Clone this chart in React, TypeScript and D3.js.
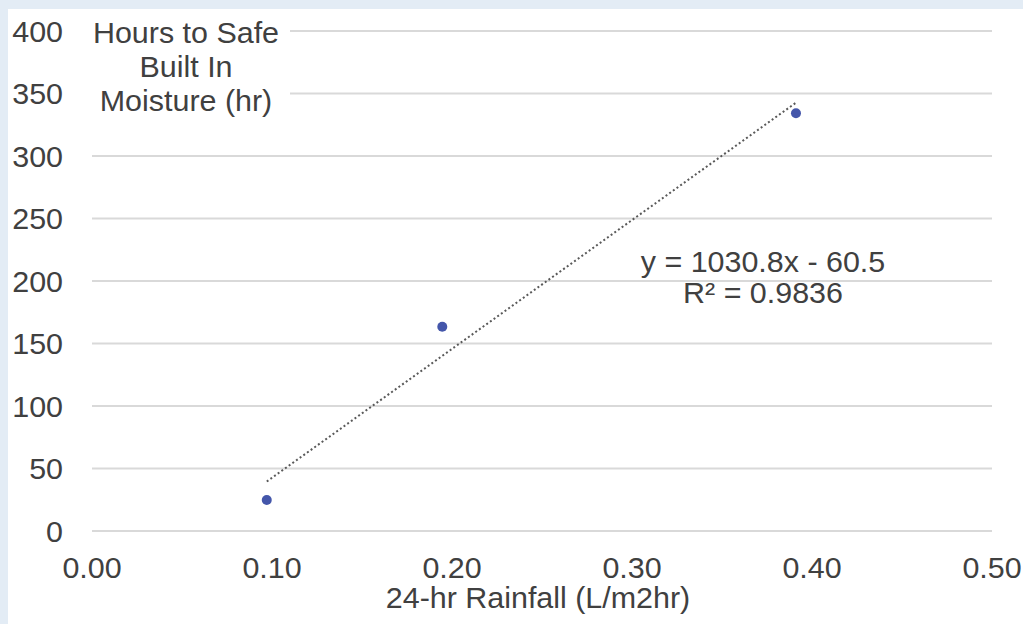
import React from "react";
import * as d3 from "d3";

const xValues = [0.0971, 0.1946, 0.3911];
const yValues = [24.8, 163.4, 334.2];
const xTicks = [0, 0.1, 0.2, 0.3, 0.4, 0.5];
const yTicks = [0, 50, 100, 150, 200, 250, 300, 350, 400];
const trendSlope = 1030.8;
const trendIntercept = -60.5;
const titleLines = ["Hours to Safe", "Built In", "Moisture (hr)"];
const equationLines = ["y = 1030.8x - 60.5", "R² = 0.9836"];
const xTitle = "24-hr Rainfall (L/m2hr)";

const W = 1023;
const H = 624;
const FS = 29;
const SX = 1.05;
const TXT = "#404040";
const FONT = "'Liberation Sans', Arial, sans-serif";

function T({ x, y, anchor = "middle", children }: any) {
  return (
    <text
      transform={`translate(${x},${y}) scale(${SX},1)`}
      textAnchor={anchor}
      fontSize={FS}
      fontFamily={FONT}
      fill={TXT}
    >
      {children}
    </text>
  );
}

export default function App() {
  const x = d3.scaleLinear().domain([0, 0.5]).range([92, 992]);
  const y = d3.scaleLinear().domain([0, 400]).range([531, 31]);
  const x0 = d3.min(xValues)!;
  const x1 = d3.max(xValues)!;
  const line = d3
    .line<number>()
    .x((d) => x(d))
    .y((d) => y(trendSlope * d + trendIntercept));

  return (
    <div style={{ position: "fixed", left: 0, top: 0 }}>
      <svg width={W} height={H} style={{ display: "block" }}>
        <rect x={0} y={0} width={W} height={H} fill="#e3ecf5" />
        <rect x={8} y={9} width={W - 8} height={H - 9} fill="#ffffff" />
        {yTicks.map((t) => (
          <line
            key={t}
            x1={x(0)}
            x2={x(0.5)}
            y1={y(t)}
            y2={y(t)}
            stroke="#d9d9d9"
            strokeWidth={2}
          />
        ))}
        {yTicks.map((t) => (
          <T key={t} x={63} y={y(t) + 10.5} anchor="end">
            {d3.format("d")(t)}
          </T>
        ))}
        {xTicks.map((t) => (
          <T key={t} x={x(t)} y={578}>
            {d3.format(".2f")(t)}
          </T>
        ))}
        <T x={x(0.25) - 4} y={608}>
          {xTitle}
        </T>
        <rect x={90} y={14} width={200} height={106} fill="#ffffff" />
        {titleLines.map((s, i) => (
          <T key={s} x={186} y={43 + i * 34}>
            {s}
          </T>
        ))}
        <path
          d={line([x0, x1]) || ""}
          fill="none"
          stroke="#595959"
          strokeWidth={2}
          strokeDasharray="2,2.5"
        />
        {xValues.map((v, i) => (
          <circle key={i} cx={x(v)} cy={y(yValues[i])} r={5} fill="#4456aa" />
        ))}
        {equationLines.map((s, i) => (
          <T key={s} x={763} y={272 + i * 31}>
            {s}
          </T>
        ))}
      </svg>
    </div>
  );
}
